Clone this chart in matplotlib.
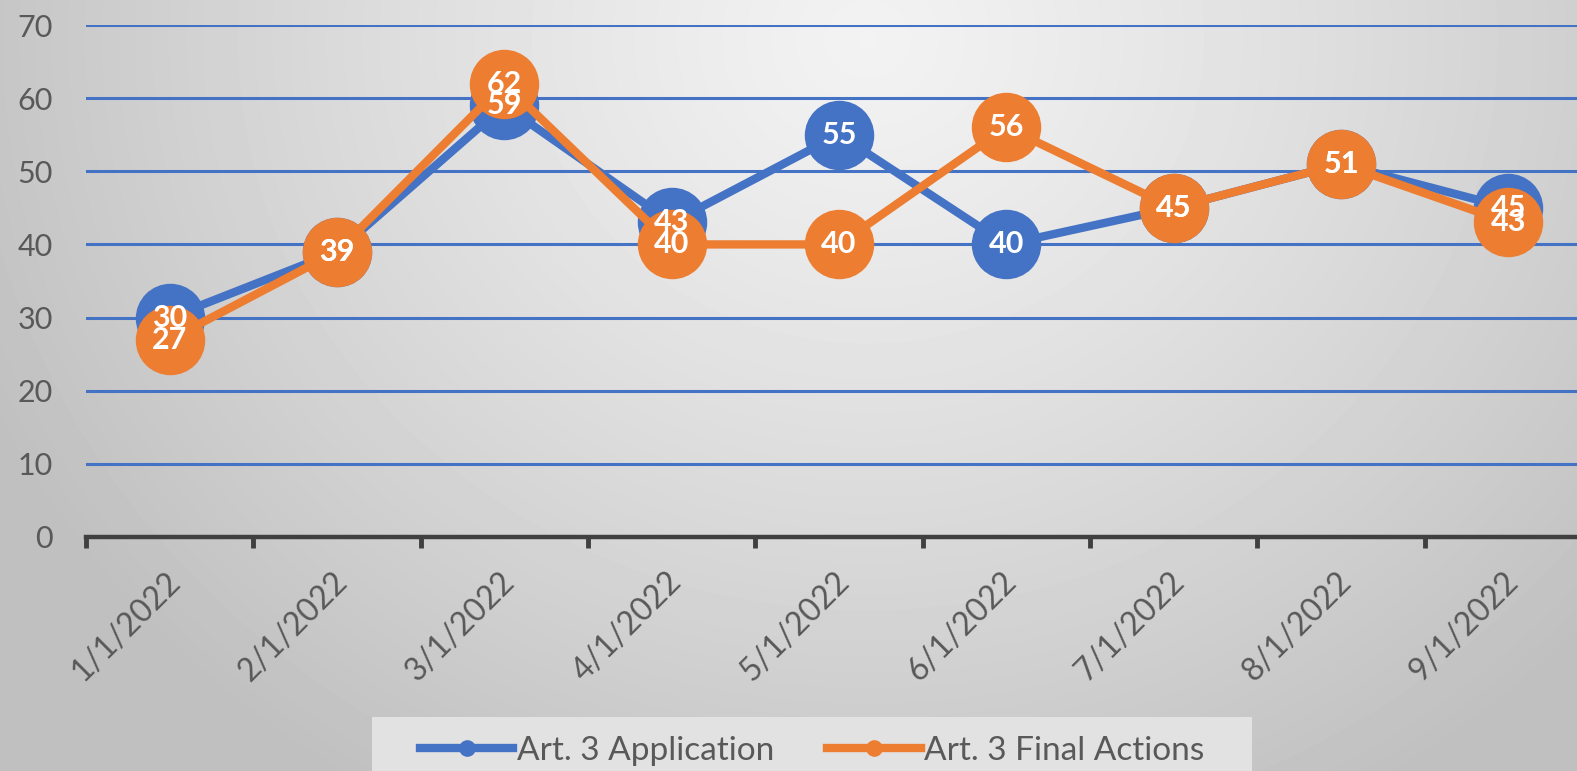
import numpy as np
import matplotlib
matplotlib.use("Agg")
import matplotlib.pyplot as plt
from matplotlib.lines import Line2D
from matplotlib.patches import Rectangle

categories = ["1/1/2022", "2/1/2022", "3/1/2022", "4/1/2022", "5/1/2022",
              "6/1/2022", "7/1/2022", "8/1/2022", "9/1/2022"]
application = [30, 39, 59, 43, 55, 40, 45, 51, 45]
final_actions = [27, 39, 62, 40, 40, 56, 45, 51, 43]
series_names = ["Art. 3 Application", "Art. 3 Final Actions"]
y_ticks = [0, 10, 20, 30, 40, 50, 60, 70]

BLUE = "#4472C4"
ORANGE = "#ED7D31"
TXT = "#595959"
FONT = "Lato"

W, H, DPI = 1577, 771, 100
fig = plt.figure(figsize=(W / DPI, H / DPI), dpi=DPI)

# radial gradient background
bg = fig.add_axes([0, 0, 1, 1], zorder=-10)
bg.set_axis_off()
yy, xx = np.mgrid[0:H, 0:W]
cx, cy = W * 0.55, H * 0.05
r = np.sqrt(((xx - cx) / (W * 0.62)) ** 2 + ((yy - cy) / (H * 1.15)) ** 2)
r = np.clip(r, 0, 1)
light, dark = 0.95, 0.75
vals = light - (light - dark) * r ** 1.2
bg.imshow(vals, cmap="gray", vmin=0, vmax=1, aspect="auto",
          extent=[0, 1, 0, 1], origin="upper")
bg.set_xlim(0, 1)
bg.set_ylim(0, 1)

ax = fig.add_axes([86 / W, (H - 537) / H, 1506 / W, 512 / H])
ax.patch.set_alpha(0)
x = np.arange(len(categories))

ax.set_ylim(0, 70)
ax.set_xlim(-0.5, len(categories) - 0.5)
ax.set_yticks(y_ticks)
ax.set_yticklabels([str(v) for v in y_ticks], fontsize=22, color=TXT, family=FONT)
ax.tick_params(axis="y", length=0, pad=24)
ax.grid(axis="y", color=BLUE, linewidth=2.2, zorder=0)
ax.set_axisbelow(True)

ax.set_xticks(x)
ax.set_xticklabels([])
ax.tick_params(axis="x", which="major", length=0)
ax.set_xticks(np.arange(-0.5, len(categories) - 0.4, 1.0), minor=True)
ax.tick_params(axis="x", which="minor", length=8, width=3.5, color="#404040",
               direction="out")
for xi, lab in zip(x, categories):
    ax.annotate(lab, xy=(xi, 0), xycoords="data", xytext=(4, -29),
                textcoords="offset points", rotation=45, ha="right", va="center",
                rotation_mode="anchor", fontsize=23, color=TXT, family=FONT,
                annotation_clip=False)

for s in ["left", "right", "top"]:
    ax.spines[s].set_visible(False)
ax.spines["bottom"].set_color("#404040")
ax.spines["bottom"].set_linewidth(3.2)
ax.spines["bottom"].set_zorder(5)

ax.plot(x, application, color=BLUE, lw=6, marker="o", ms=50, mew=0,
        zorder=3, clip_on=False, solid_capstyle="round")
ax.plot(x, final_actions, color=ORANGE, lw=6, marker="o", ms=50, mew=0,
        zorder=4, clip_on=False, solid_capstyle="round")
for series in (application, final_actions):
    for xi, v in zip(x, series):
        ax.text(xi, v, str(v), ha="center", va="center", color="white",
                fontsize=22, fontweight="bold", family=FONT, zorder=6)

# legend box
fig.patches.append(Rectangle((372 / W, 0), (1252 - 372) / W, (H - 717) / H,
                             transform=fig.transFigure, facecolor="#e2e2e2",
                             edgecolor="none", zorder=-5))
handles = [Line2D([0], [0], color=BLUE, lw=6, marker="o", ms=12, mew=0),
           Line2D([0], [0], color=ORANGE, lw=6, marker="o", ms=12, mew=0)]
fig.legend(handles, series_names, loc="center", bbox_to_anchor=(812 / W, (H - 751) / H),
           ncol=2, frameon=False, handlelength=2.8, handletextpad=0.1,
           columnspacing=1.6, prop={"family": FONT, "size": 24}, labelcolor=TXT)

fig.savefig("out.png", dpi=DPI)
